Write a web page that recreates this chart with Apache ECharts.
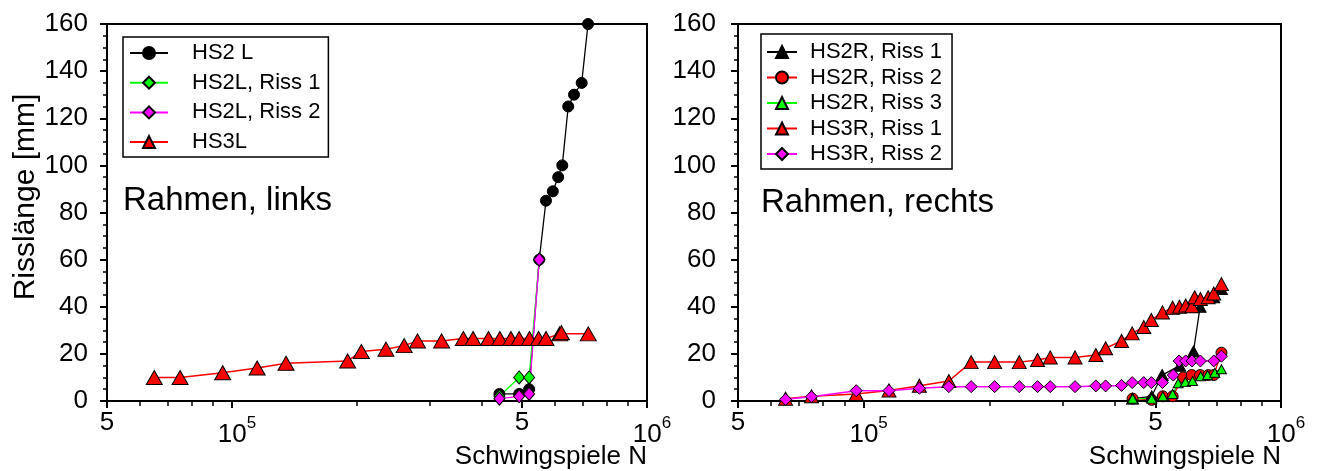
<!DOCTYPE html>
<html>
<head>
<meta charset="utf-8">
<script src="https://cdn.jsdelivr.net/npm/echarts@6/dist/echarts.min.js"></script>
<style>
  html, body { margin: 0; padding: 0; background: #fff; }
  #chart { width: 1321px; height: 471px; }
</style>
</head>
<body>
<div id="chart"></div>
<script>
// tick positions on the N axis
const xTicks = [5e4, 1e5, 5e5, 1e6]
const xTickLabels = ['5', '10|5', '5', '10|6']
const xMinorTicks = [6e4, 7e4, 8e4, 9e4, 2e5, 3e5, 4e5, 6e5, 7e5, 8e5, 9e5]

// Rahmen, links
const hs2L_N = [441e3, 492e3, 520e3, 550e3, 571e3, 593e3, 611e3, 625e3, 646e3, 667e3, 696e3, 721e3]
const hs2L_a = [3, 3, 5, 60, 85, 89, 95, 100, 125, 130, 135, 160]
const hs2L1_N = [441e3, 492e3, 520e3, 550e3]
const hs2L1_a = [2, 10, 10, 60]
const hs2L2_N = [441e3, 492e3, 520e3, 550e3]
const hs2L2_a = [1, 2, 3, 60]
const hs3L_N = [65e3, 75e3, 95e3, 115e3, 135e3, 190e3, 205e3, 235e3, 260e3, 280e3, 320e3,
  361e3, 381e3, 415e3, 442e3, 470e3, 492e3, 521e3, 548e3, 571e3, 616e3, 622e3, 722e3]
const hs3L_a = [10, 10, 12, 14, 16, 17, 21, 22, 23.5, 25.5, 25.5,
  26.5, 26.5, 26.5, 26.5, 26.5, 26.5, 26.5, 26.5, 26.5, 28.5, 29, 28.5]

// Rahmen, rechts
const hs2R1_N = [441e3, 490e3, 519e3, 572e3, 617e3, 640e3, 690e3, 720e3]
const hs2R1_a = [1, 2, 11, 15, 21, 40, 44, 47.5]
const hs2R2_N = [441e3, 490e3, 521e3, 550e3, 583e3, 611e3, 640e3, 670e3, 690e3, 720e3]
const hs2R2_a = [1, 0.5, 2, 2, 10, 11, 11, 11, 11, 20.5]
const hs2R3_N = [441e3, 490e3, 521e3, 550e3, 567e3, 590e3, 614e3, 642e3, 667e3, 694e3, 720e3]
const hs2R3_a = [1, 1, 2, 3, 7.5, 8, 8.5, 10.5, 11, 12, 13.5]
const hs3R1_N = [65e3, 75e3, 96e3, 115e3, 136e3, 160e3, 181e3, 206e3, 236e3, 261e3, 280e3, 321e3,
  360e3, 380e3, 415e3, 440e3, 469e3, 489e3, 520e3, 550e3, 571e3, 591e3, 612e3, 621e3, 641e3, 669e3, 690e3, 720e3]
const hs3R1_a = [1, 2, 3, 4.5, 6.5, 8.5, 16.5, 16.5, 16.5, 17.4, 18.5, 18.5,
  19.5, 22.4, 25.5, 28.7, 31.4, 34.4, 37.6, 39.6, 40, 40.5, 40.2, 44, 43.3, 44, 45.6, 49.6]
const hs3R2_N = [65e3, 75e3, 96e3, 115e3, 136e3, 160e3, 181e3, 206e3, 236e3, 261e3, 280e3, 321e3,
  360e3, 380e3, 415e3, 440e3, 469e3, 489e3, 520e3, 552e3, 570e3, 591e3, 612e3, 641e3, 690e3, 720e3]
const hs3R2_a = [0.7, 1.8, 4.4, 4.4, 5.4, 6.1, 6.1, 6.1, 6.1, 6.1, 6.1, 6.1,
  6.4, 6.4, 6.6, 7.8, 7.8, 7.8, 7.8, 11, 17, 17, 17, 17, 17, 19]

const FONT = '"Liberation Sans", Arial, sans-serif'
const W = 1321
const grids = [
  { left: 107, top: 24, width: 540, height: 377 },
  { left: 738, top: 24, width: 543, height: 377 }
]

const zip = (xs, ys) => xs.map((x, i) => [x, ys[i]])
const lg = v => Math.log10(v)

function tickLabel(v) {
  let best = 0
  xTicks.forEach((t, i) => { if (Math.abs(lg(t) - v) < Math.abs(lg(xTicks[best]) - v)) best = i })
  const parts = xTickLabels[best].split('|')
  return parts.length > 1 ? '{b|' + parts[0] + '}{s|' + parts[1] + '}' : parts[0]
}

function xAxesFor(gi) {
  return [
    {
      gridIndex: gi, type: 'log', min: 5e4, max: 1e6, position: 'bottom',
      axisLine: { lineStyle: { color: '#000', width: 2 } },
      axisTick: { show: false }, axisLabel: { show: false }, splitLine: { show: false }
    },
    {
      gridIndex: gi, type: 'value', min: lg(5e4), max: 6, position: 'bottom',
      axisLine: { show: false }, splitLine: { show: false },
      axisTick: { show: true, length: 7, customValues: xTicks.map(lg), lineStyle: { color: '#000', width: 2 } },
      axisLabel: {
        customValues: xTicks.map(lg), formatter: tickLabel, margin: 9,
        color: '#000', fontSize: 26, fontFamily: FONT,
        rich: {
          b: { fontSize: 26, fontFamily: FONT, color: '#000', padding: [12, 0, 0, 10] },
          s: { fontSize: 17, fontFamily: FONT, color: '#000', padding: [0, 0, 12, 0] }
        }
      }
    },
    {
      gridIndex: gi, type: 'value', min: lg(5e4), max: 6, position: 'bottom',
      axisLine: { show: false }, splitLine: { show: false }, axisLabel: { show: false },
      axisTick: { show: true, length: 5, customValues: xMinorTicks.map(lg), lineStyle: { color: '#000', width: 1.5 } }
    }
  ]
}

function yAxisFor(gi) {
  const ax = {
    gridIndex: gi, type: 'value', min: 0, max: 160, interval: 20,
    axisLine: { show: true, lineStyle: { color: '#000', width: 2 } },
    axisTick: { show: true, length: 7, lineStyle: { color: '#000', width: 2 } },
    minorTick: { show: true, splitNumber: 4, length: 4, lineStyle: { color: '#000', width: 1.5 } },
    splitLine: { show: false },
    axisLabel: { color: '#000', fontSize: 26, fontFamily: FONT, margin: gi === 0 ? 19 : 22 }
  }
  if (gi === 0) {
    ax.name = 'Risslänge [mm]'
    ax.nameLocation = 'middle'
    ax.nameRotate = 90
    ax.nameGap = 61
    ax.nameTextStyle = { fontSize: 30, fontFamily: FONT, color: '#000', padding: [0, 0, 0, 31] }
  }
  return ax
}

function line(name, gi, data, color, symbol, size, width) {
  return {
    name, type: 'line', xAxisIndex: gi * 3, yAxisIndex: gi, data,
    symbol, symbolSize: size, showAllSymbol: true, animation: false,
    lineStyle: { color, width: width || 1.3 },
    itemStyle: { color, borderColor: '#000', borderWidth: 1 },
    emphasis: { disabled: true }
  }
}

const legendBase = {
  orient: 'vertical', selectedMode: false,
  borderColor: '#000', borderWidth: 1.5, backgroundColor: '#fff',
  itemHeight: 15,
  textStyle: { fontSize: 22, fontFamily: FONT, color: '#000' }
}

const textStyle = { fontFamily: FONT, fill: '#000' }

const option = {
  backgroundColor: '#fff',
  animation: false,
  grid: grids.map(g => Object.assign({
    show: true, borderColor: '#000', borderWidth: 2, backgroundColor: 'transparent',
    containLabel: false, outerBoundsMode: 'none'
  }, g)),
  xAxis: [...xAxesFor(0), ...xAxesFor(1)],
  yAxis: [yAxisFor(0), yAxisFor(1)],
  legend: [
    Object.assign({}, legendBase, {
      left: 123, top: 37, padding: [5, 8, 4, 6], itemGap: 7.7, itemWidth: 38,
      data: ['HS2 L', 'HS2L, Riss 1', 'HS2L, Riss 2', 'HS3L'],
      textStyle: Object.assign({}, legendBase.textStyle, { padding: [0, 0, 0, 19] })
    }),
    Object.assign({}, legendBase, {
      left: 761, top: 34, padding: [7, 10, 4, 5], itemGap: 3.5, itemWidth: 30,
      data: ['HS2R, Riss 1', 'HS2R, Riss 2', 'HS2R, Riss 3', 'HS3R, Riss 1', 'HS3R, Riss 2'],
      textStyle: Object.assign({}, legendBase.textStyle, { padding: [0, 0, 0, 8] })
    })
  ],
  graphic: [
    { type: 'text', left: 123, top: 184, style: Object.assign({ text: 'Rahmen, links', fontSize: 33 }, textStyle) },
    { type: 'text', left: 761, top: 186, style: Object.assign({ text: 'Rahmen, rechts', fontSize: 33 }, textStyle) },
    { type: 'text', right: W - 647, top: 444, style: Object.assign({ text: 'Schwingspiele N', fontSize: 26 }, textStyle) },
    { type: 'text', right: W - 1281, top: 444, style: Object.assign({ text: 'Schwingspiele N', fontSize: 26 }, textStyle) }
  ],
  series: [
    line('HS3L', 0, zip(hs3L_N, hs3L_a), '#ff0000', 'triangle', [16, 14], 1.5),
    line('HS2 L', 0, zip(hs2L_N, hs2L_a), '#000', 'circle', 11, 1.3),
    line('HS2L, Riss 1', 0, zip(hs2L1_N, hs2L1_a), '#00ff00', 'diamond', [11, 13], 1.3),
    line('HS2L, Riss 2', 0, zip(hs2L2_N, hs2L2_a), '#ff00ff', 'diamond', [11, 13], 1.3),

    line('HS2R, Riss 2', 1, zip(hs2R2_N, hs2R2_a), '#ff0000', 'circle', 11, 1.3),
    line('HS2R, Riss 1', 1, zip(hs2R1_N, hs2R1_a), '#000', 'triangle', [12, 11], 1.3),
    line('HS2R, Riss 3', 1, zip(hs2R3_N, hs2R3_a), '#00ff00', 'triangle', [10, 9], 1.3),
    line('HS3R, Riss 1', 1, zip(hs3R1_N, hs3R1_a), '#ff0000', 'triangle', [14, 13], 1.5),
    line('HS3R, Riss 2', 1, zip(hs3R2_N, hs3R2_a), '#ff00ff', 'diamond', [12, 12], 1.5)
  ]
}

const chart = echarts.init(document.getElementById('chart'), null, { renderer: 'canvas' })
chart.setOption(option)
</script>
</body>
</html>
